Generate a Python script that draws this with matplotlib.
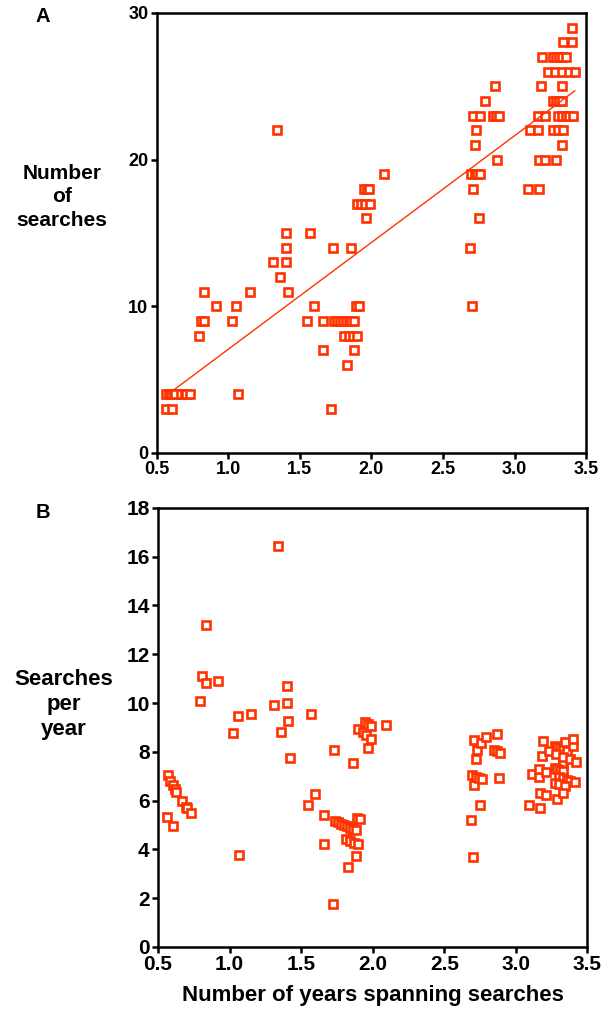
# -*- coding: utf-8 -*-
# Searches vs. years spanning searches, two panels (A: count, B: per year)

import numpy as np
import matplotlib.pyplot as plt

plt.rcParams['font.family'] = ['Liberation Sans', 'DejaVu Sans']
plt.rcParams['font.weight'] = 'bold'

anos = [0.562, 0.604,
        0.567, 0.587, 0.602, 0.619, 0.628, 0.669, 0.696, 0.704, 0.730,
        0.794, 0.81, 0.833, 0.833, 0.916, 1.025, 1.056, 1.064, 1.15,
        1.31, 1.337, 1.36, 1.40, 1.40, 1.405, 1.42,
        1.55, 1.57, 1.595, 1.66, 1.663, 1.72, 1.73,
        1.74, 1.76, 1.78, 1.80, 1.82, 1.84, 1.86, 1.88,
        1.81, 1.84, 1.87, 1.90, 1.83, 1.86, 1.88, 1.89, 1.91,
        1.90, 1.93, 1.956, 1.99, 1.948, 1.97, 1.985, 1.965, 2.09,
        2.70, 2.69, 2.75, 2.71, 2.695, 2.72, 2.74, 2.76,
        2.88, 2.72, 2.73, 2.71, 2.755, 2.79, 2.866, 2.85, 2.87, 2.89,
        3.09, 3.17, 3.11, 3.16, 3.16, 3.21, 3.17, 3.21, 3.29,
        3.185, 3.33, 3.19, 3.27, 3.29, 3.31, 3.33, 3.36,
        3.23, 3.28, 3.33, 3.38, 3.42, 3.34, 3.40, 3.40,
        3.27, 3.29, 3.31, 3.33,
        3.30, 3.33, 3.36, 3.38, 3.41,
        3.27, 3.30, 3.34, 3.33]
buscas = [3, 3,
          4, 4, 4, 4, 4, 4, 4, 4, 4,
          8, 9, 9, 11, 10, 9, 10, 4, 11,
          13, 22, 12, 15, 14, 13, 11,
          9, 15, 10, 7, 9, 3, 14,
          9, 9, 9, 9, 9, 9, 9, 9,
          8, 8, 8, 8, 6, 14, 7, 10, 10,
          17, 17, 17, 17, 18, 18, 18, 16, 19,
          10, 14, 16, 18, 19, 19, 19, 19,
          20, 21, 22, 23, 23, 24, 25, 23, 23, 23,
          18, 18, 22, 22, 23, 23, 20, 20, 20,
          25, 25, 27, 27, 27, 27, 27, 27,
          26, 26, 26, 26, 26, 28, 28, 29,
          24, 24, 24, 24,
          23, 23, 23, 23, 23,
          22, 22, 22, 21]

anos = np.array(anos)
buscas = np.array(buscas)
# Gráfico B: buscas por ano = buscas / anos
por_ano = buscas / anos

cor = '#ff3300'
fig = plt.figure(figsize=(6.10, 10.14), dpi=100)
axA = fig.add_axes([0.257, 0.5533, 0.704, 0.434])
axB = fig.add_axes([0.259, 0.0661, 0.704, 0.433])

# Painel A
axA.plot(anos, buscas, 's', ms=6.4, mfc='white', mec=cor, mew=1.9, ls='none')
coef = np.polyfit(anos, buscas, 1)
xs = np.array([anos.min(), anos.max()])
axA.plot(xs, np.polyval(coef, xs), color=cor, lw=1.0)
axA.set_xlim(0.5, 3.5)
axA.set_ylim(0, 30)
axA.set_xticks(np.arange(0.5, 3.51, 0.5))
axA.set_yticks([0, 10, 20, 30])
axA.set_xticklabels(['0.5', '1.0', '1.5', '2.0', '2.5', '3.0', '3.5'])
axA.tick_params(labelsize=13, width=1.8, length=4, pad=2)

# Painel B
axB.plot(anos, por_ano, 's', ms=6.4, mfc='white', mec=cor, mew=1.9, ls='none')
axB.set_xlim(0.5, 3.5)
axB.set_ylim(0, 18)
axB.set_xticks(np.arange(0.5, 3.51, 0.5))
axB.set_yticks(np.arange(0, 19, 2))
axB.set_xticklabels(['0.5', '1.0', '1.5', '2.0', '2.5', '3.0', '3.5'])
axB.tick_params(labelsize=15, width=1.8, length=4, pad=2)
axB.set_xlabel('Number of years spanning searches', fontsize=16, fontweight='bold', labelpad=8)

for ax in (axA, axB):
    for s in ax.spines.values():
        s.set_linewidth(1.8)

fig.text(0.070, 0.984, 'A', fontsize=14.5, fontweight='bold', ha='center', va='center')
fig.text(0.070, 0.495, 'B', fontsize=14.5, fontweight='bold', ha='center', va='center')
fig.text(0.102, 0.806, 'Number\nof\nsearches', fontsize=15, fontweight='bold',
         ha='center', va='center', linespacing=1.3)
fig.text(0.104, 0.305, 'Searches\nper\nyear', fontsize=16, fontweight='bold',
         ha='center', va='center', linespacing=1.25)

fig.savefig('out.png', dpi=100)
